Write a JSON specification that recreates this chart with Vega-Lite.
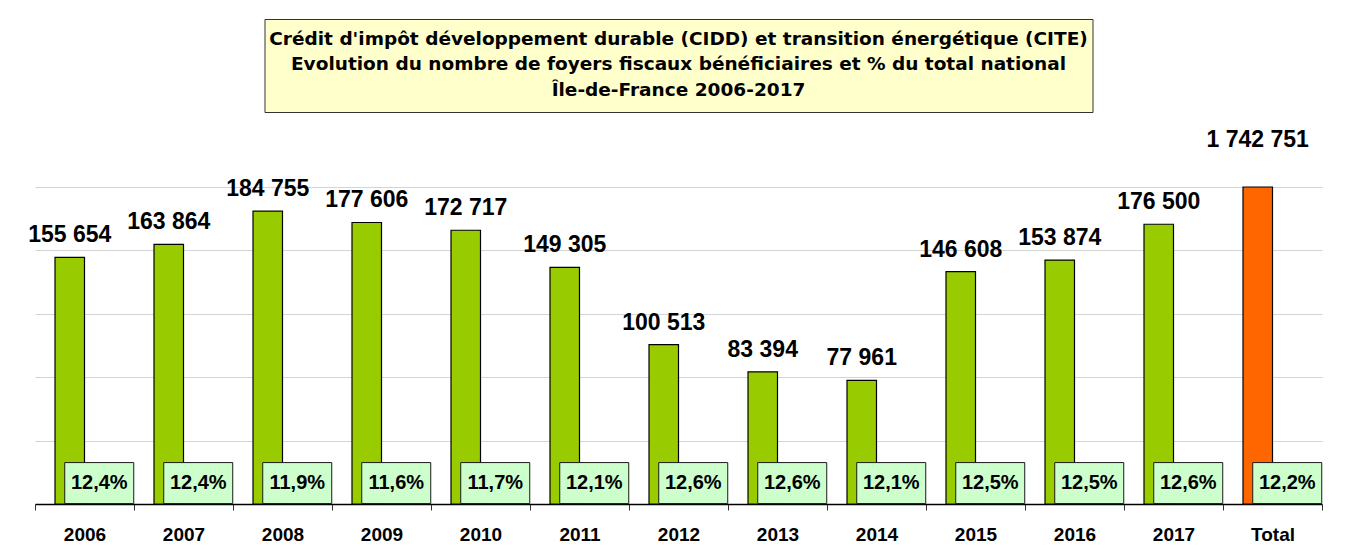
{
  "$schema": "https://vega.github.io/schema/vega-lite/v6.json",
  "padding": {"left": 28, "top": 18, "right": 5, "bottom": 0},
  "bounds": "flush",
  "center": true,
  "spacing": 75,
  "config": {
    "font": "Liberation Sans",
    "locale": {"number": {"decimal": ",", "thousands": " ", "grouping": [3], "currency": ["", " €"]}},
    "view": {"stroke": null}
  },
  "vconcat": [
    {
      "width": 828,
      "height": 93,
      "view": {"fill": "#FFFFCC", "stroke": "#333333", "strokeWidth": 1},
      "data": {"values": [
        {"line": 1, "text": "Crédit d'impôt développement durable (CIDD) et transition énergétique (CITE)"},
        {"line": 2, "text": "Evolution du nombre de foyers fiscaux bénéficiaires et % du total national"},
        {"line": 3, "text": "Île-de-France 2006-2017"}
      ]},
      "mark": {"type": "text", "font": "DejaVu Sans", "fontWeight": "bold", "fontSize": 18.5, "color": "black", "baseline": "middle"},
      "encoding": {
        "y": {"field": "line", "type": "ordinal", "axis": null, "scale": {"type": "point", "padding": 0.8235, "align": 0.469}},
        "text": {"field": "text"}
      }
    },
    {
      "width": 1287,
      "height": 317,
      "view": {"stroke": null},
      "data": {"values": [
        {"cat": "2006", "value": 155654, "pct": 0.124, "kind": "annee"},
        {"cat": "2007", "value": 163864, "pct": 0.124, "kind": "annee"},
        {"cat": "2008", "value": 184755, "pct": 0.119, "kind": "annee"},
        {"cat": "2009", "value": 177606, "pct": 0.116, "kind": "annee"},
        {"cat": "2010", "value": 172717, "pct": 0.117, "kind": "annee"},
        {"cat": "2011", "value": 149305, "pct": 0.121, "kind": "annee"},
        {"cat": "2012", "value": 100513, "pct": 0.126, "kind": "annee"},
        {"cat": "2013", "value": 83394, "pct": 0.126, "kind": "annee"},
        {"cat": "2014", "value": 77961, "pct": 0.121, "kind": "annee"},
        {"cat": "2015", "value": 146608, "pct": 0.125, "kind": "annee"},
        {"cat": "2016", "value": 153874, "pct": 0.125, "kind": "annee"},
        {"cat": "2017", "value": 176500, "pct": 0.126, "kind": "annee"},
        {"cat": "Total", "value": 1742751, "pct": 0.122, "kind": "total"}
      ]},
      "encoding": {
        "x": {
          "field": "cat", "type": "nominal", "sort": null,
          "scale": {"paddingInner": 0, "paddingOuter": 0},
          "axis": {
            "title": null, "labelAngle": 0, "labelFont": "Liberation Sans", "labelFontWeight": "bold",
            "labelFontSize": 19, "labelColor": "black", "labelPadding": 15,
            "domainColor": "black", "domainWidth": 1.5, "tickColor": "#333333", "tickSize": 6,
            "tickBand": "extent", "grid": false
          }
        }
      },
      "layer": [
        {
          "mark": {"type": "bar", "stroke": "black", "strokeWidth": 1.2},
          "encoding": {
            "xOffset": {"datum": "nombre", "scale": {"domain": ["nombre", "pct"], "paddingInner": 0, "paddingOuter": 0.678}},
            "y": {
              "field": "value", "type": "quantitative",
              "scale": {"domain": [0, 200000], "clamp": true, "nice": false, "zero": true},
              "axis": {"values": [40000, 80000, 120000, 160000, 200000], "grid": true, "gridColor": "#D4D4D4", "gridWidth": 1.2, "labels": false, "ticks": false, "domain": false, "title": null}
            },
            "color": {"field": "kind", "type": "nominal", "scale": {"domain": ["annee", "total"], "range": ["#99CC00", "#FF6600"]}, "legend": null}
          }
        },
        {
          "transform": [{"filter": "datum.cat !== 'Total'"}],
          "mark": {"type": "text", "font": "Liberation Sans", "fontWeight": "bold", "fontSize": 23, "color": "black", "baseline": "alphabetic", "dy": -15},
          "encoding": {
            "xOffset": {"datum": "nombre"},
            "y": {"field": "value", "type": "quantitative"},
            "text": {"field": "value", "type": "quantitative", "format": ",d"}
          }
        },
        {
          "transform": [{"filter": "datum.cat === 'Total'"}],
          "mark": {"type": "text", "font": "Liberation Sans", "fontWeight": "bold", "fontSize": 23, "color": "black", "baseline": "alphabetic", "dy": -40},
          "encoding": {
            "xOffset": {"datum": "nombre"},
            "y": {"field": "value", "type": "quantitative"},
            "text": {"field": "value", "type": "quantitative", "format": ",d"}
          }
        },
        {
          "mark": {"type": "point", "shape": "M-1,-0.594L1,-0.594L1,0.594L-1,0.594Z", "size": 4761, "filled": true, "fill": "#CCFFCC", "stroke": "#1a1a1a", "strokeWidth": 1, "opacity": 1},
          "encoding": {
            "xOffset": {"datum": "pct"},
            "y": {"datum": 13200, "type": "quantitative"}
          }
        },
        {
          "mark": {"type": "text", "font": "Liberation Sans", "fontWeight": "bold", "fontSize": 20, "color": "black", "baseline": "middle"},
          "encoding": {
            "xOffset": {"datum": "pct"},
            "y": {"datum": 13200, "type": "quantitative"},
            "text": {"field": "pct", "type": "quantitative", "format": ".1%"}
          }
        }
      ]
    }
  ]
}
